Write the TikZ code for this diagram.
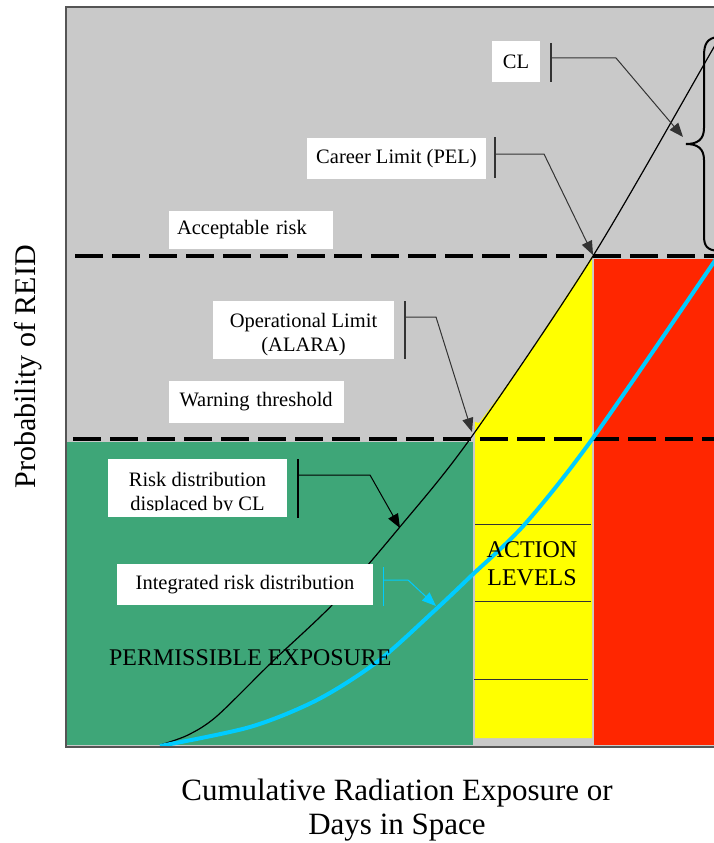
\documentclass[tikz,border=0pt]{standalone}
\usepackage{fontspec}
\setmainfont{Liberation Serif}
\usetikzlibrary{arrows.meta}
\definecolor{bggray}{RGB}{201,201,201}
\definecolor{pgreen}{RGB}{62,166,120}
\definecolor{pyellow}{RGB}{255,255,0}
\definecolor{pred}{RGB}{255,38,0}
\definecolor{pcyan}{RGB}{0,204,255}
\definecolor{framegray}{RGB}{85,85,85}
\begin{document}
\begin{tikzpicture}[x=1pt,y=-1pt,
  lbl/.style={fill=white, inner sep=0pt, font=\fontsize{20.5}{24}\selectfont},
  lbltxt/.style={inner sep=0pt, align=center, font=\fontsize{20.5}{24}\selectfont},
  thr/.style={line width=4.5pt, dash pattern=on 28pt off 9pt},
  conn/.style={draw=black!80, line width=1pt, -{Triangle[length=14pt,width=11pt]}},
  tickln/.style={draw=black!80, line width=1.3pt},
  lvl/.style={draw=black!80, line width=1pt},
]
\useasboundingbox (0,0) rectangle (714,843);
\begin{scope}
\clip (0,0) rectangle (714,843);
% background regions
\fill[bggray] (66,7) rectangle (716,747);
\fill[pgreen] (67,442) rectangle (473,745);
\fill[pyellow] (475,422) -- (479,423) -- (500,395) -- (530,352) -- (560,306) -- (592,257) -- (592,738) -- (475,738) -- cycle;
\fill[pred] (594,259) rectangle (716,745);
% action level lines
\draw[lvl] (475,524) -- (591,524);
\draw[lvl] (475,601) -- (591,601);
\draw[lvl] (474,679) -- (588,679);
% threshold dashed lines
\draw[thr] (75,256) -- (716,256);
\draw[thr] (73,439) -- (716,439);
% curves
\draw[line width=1.2pt] plot[smooth] coordinates {(160,745) (188,735) (217,716) (273,661) (335,602) (399,528) (470,439) (593,256) (714,47) (720,37)};
\draw[pcyan, line width=4pt] plot[smooth] coordinates {(160,746) (250,727) (317,700) (377,662) (433,612) (470,577) (525,524) (593,438) (714,262) (720,253)};
% brace
\draw[line width=2pt] (718,37) .. controls (707,38) and (704,44) .. (704,56) -- (704,128) .. controls (704,140) and (697,144) .. (686,144) .. controls (697,144) and (704,148) .. (704,160) -- (704,236) .. controls (704,246) and (707,250) .. (718,251);
% text regions
\node[anchor=base west, inner sep=0pt, font=\fontsize{23.9}{28}\selectfont] (perm) at (109,665) {PERMISSIBLE EXPOSURE};
\node[anchor=north, align=center, inner sep=0pt, font=\fontsize{24}{28}\selectfont] (action) at (532,541) {ACTION\\LEVELS};
% labels
\node[lbl, minimum width=48pt, minimum height=41pt] (cl) at (516,61.5) {CL};
\node[lbl, minimum width=179pt, minimum height=41pt] (pel) at (396.5,158.5) {Career Limit (PEL)};
\node[lbl, inner xsep=8pt, text width=148pt, align=left, minimum height=38pt] (acc) at (251,230) {Acceptable risk};
\node[lbl, minimum width=181pt, minimum height=58pt] (ol) at (303.5,330) {};
\node[lbltxt, anchor=north] (oltxt) at (303.5,313) {Operational Limit\\(ALARA)};
\node[lbl, inner xsep=7.5pt, text width=160pt, align=left, minimum height=42pt] (warn) at (256.5,402) {\hspace*{3pt}Warning threshold};
\node[lbl, minimum width=179pt, minimum height=58pt] (risk) at (197.5,488) {};
\begin{scope}
\clip (108,459) rectangle (287,510.5);
\node[lbltxt, anchor=north] (risktxt) at (197.5,472) {Risk distribution\\displaced by CL};
\end{scope}
\node[lbl, minimum width=256pt, minimum height=41pt] (irr) at (245,584.5) {Integrated risk distribution};
% ticks and connectors
\coordinate (clT) at (551,43); \coordinate (clB) at (551,82);
\coordinate (clS) at (551,58); \coordinate (clK) at (616,58); \coordinate (clA) at (683,137);
\draw[tickln] (clT) -- (clB);
\draw[conn] (clS) -- (clK) -- (clA);
\coordinate (pelT) at (495,137); \coordinate (pelB) at (495,178);
\coordinate (pelS) at (495,154); \coordinate (pelK) at (544,154); \coordinate (pelA) at (593,255);
\draw[tickln] (pelT) -- (pelB);
\draw[conn] (pelS) -- (pelK) -- (pelA);
\coordinate (olT) at (405,301); \coordinate (olB) at (405,359);
\coordinate (olS) at (405,317); \coordinate (olK) at (436,317); \coordinate (olA) at (472,432);
\draw[tickln] (olT) -- (olB);
\draw[conn] (olS) -- (olK) -- (olA);
\coordinate (rkT) at (298,459); \coordinate (rkB) at (298,518);
\coordinate (rkS) at (298,475); \coordinate (rkK) at (370,475); \coordinate (rkA) at (400,528);
\draw[tickln, draw=black] (rkT) -- (rkB);
\draw[conn, draw=black] (rkS) -- (rkK) -- (rkA);
\coordinate (irT) at (383,567); \coordinate (irB) at (383,606);
\coordinate (irS) at (383,580); \coordinate (irK) at (408,580); \coordinate (irA) at (436,606);
\draw[tickln, draw=pcyan, line width=1pt] (irT) -- (irB);
\draw[conn, draw=pcyan] (irS) -- (irK) -- (irA);
% frame
\draw[framegray, line width=1.6pt] (716,7) -- (66,7) -- (66,747) -- (716,747);
\end{scope}
% axis titles
\node[anchor=north, align=center, inner sep=0pt, font=\fontsize{31}{34}\selectfont] (xlab) at (397,779) {Cumulative Radiation Exposure or\\Days in Space};
\node[rotate=90, inner sep=0pt, font=\fontsize{30}{34}\selectfont] (ylab) at (28,367) {Probability of REID};
\end{tikzpicture}
\end{document}
